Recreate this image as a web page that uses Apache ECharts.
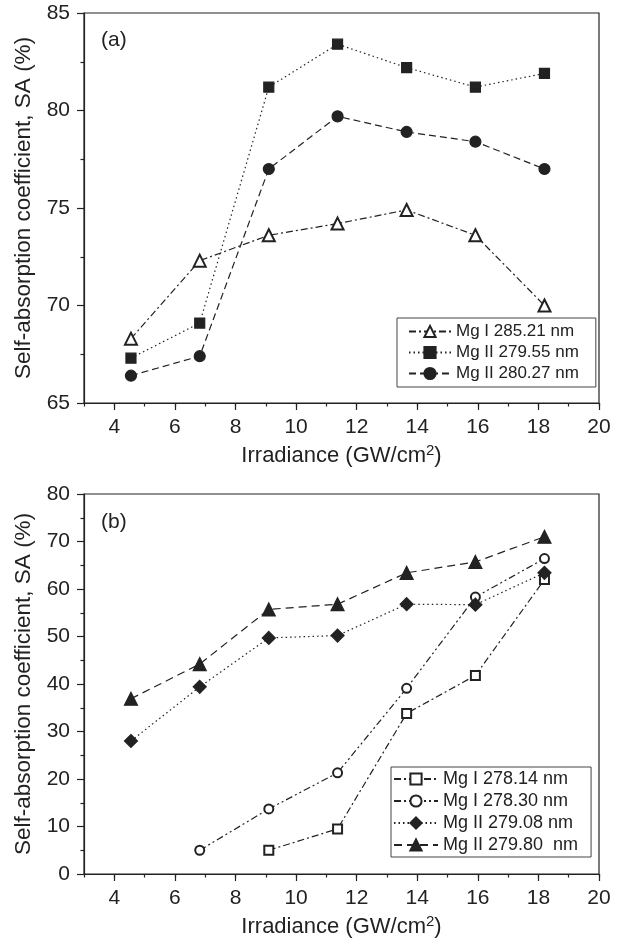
<!DOCTYPE html>
<html>
<head>
<meta charset="utf-8">
<script src="https://cdn.jsdelivr.net/npm/echarts@6/dist/echarts.min.js"></script>
<style>
  html, body { margin: 0; padding: 0; background: #fff; }
  #chart { width: 620px; height: 941px; }
</style>
</head>
<body>
<div id="chart"></div>
<script>
// irradiance values (GW/cm2), same for every series
const irradiance = [4.55, 6.82, 9.1, 11.37, 13.65, 15.92, 18.2]
const xTicks = [4, 6, 8, 10, 12, 14, 16, 18, 20]

// panel (a)
const mgI28521 = [68.3, 72.3, 73.6, 74.2, 74.9, 73.6, 70.0]
const mgII27955 = [67.3, 69.1, 81.2, 83.4, 82.2, 81.2, 81.9]
const mgII28027 = [66.4, 67.4, 77.0, 79.7, 78.9, 78.4, 77.0]

// panel (b)
const mgI27814 = [null, null, 5.0, 9.5, 33.8, 41.8, 62.0]
const mgI27830 = [null, 5.0, 13.7, 21.3, 39.1, 58.3, 66.4]
const mgII27908 = [28.0, 39.4, 49.7, 50.2, 56.8, 56.7, 63.4]
const mgII27980 = [36.9, 44.2, 55.7, 56.8, 63.4, 65.7, 71.0]

const ink = '#222'
const font = 'Liberation Sans, Arial, sans-serif'

const pairs = vals => irradiance.map((x, i) => [x, vals[i]]).filter(p => p[1] != null)

const mkSeries = (name, vals, idx, symbol, size, dash) => ({
  name,
  type: 'line',
  xAxisIndex: idx * 2,
  yAxisIndex: idx,
  data: pairs(vals),
  symbol,
  symbolSize: size,
  color: ink,
  itemStyle: { color: ink, borderColor: ink, borderWidth: 1.2 },
  lineStyle: { color: ink, width: 1.2, type: dash },
  emphasis: { disabled: true },
  animation: false,
})

const dashDot = [7, 3, 2, 3]
const dashDotDot = [7, 3, 2, 3, 2, 3]
const dotted = [1.5, 3]
const dashed = [7, 4]
const longDash = [8, 5]

const mainX = idx => ({
  type: 'value', gridIndex: idx, min: 3, max: 20, position: 'bottom',
  name: 'Irradiance (GW/cm{sup|2})',
  nameLocation: 'middle',
  nameGap: 40,
  nameTextStyle: {
    color: ink, fontSize: 22, fontFamily: font,
    rich: { sup: { fontSize: 15, padding: [0, 0, 11, 0], color: ink, fontFamily: font } },
  },
  axisLine: { lineStyle: { color: ink, width: 1.2 } },
  axisTick: { customValues: xTicks, length: 7, lineStyle: { color: ink, width: 1.2 } },
  axisLabel: { customValues: xTicks, color: ink, fontSize: 21, fontFamily: font, margin: 14 },
  splitLine: { show: false },
})

const minorX = idx => ({
  type: 'value', gridIndex: idx, min: 3, max: 20, interval: 1, position: 'bottom',
  axisLine: { show: false },
  axisTick: { length: 3.5, lineStyle: { color: ink, width: 1.2 } },
  axisLabel: { show: false },
  splitLine: { show: false },
})

const yAx = (idx, min, max, step) => ({
  type: 'value', gridIndex: idx, min, max, interval: step,
  name: 'Self-absorption coefficient, SA (%)',
  nameLocation: 'middle',
  nameGap: 40,
  nameTextStyle: { color: ink, fontSize: 22.5, fontFamily: font },
  axisLine: { show: true, lineStyle: { color: ink, width: 1.2 } },
  axisTick: { show: true, length: 7, lineStyle: { color: ink, width: 1.2 } },
  minorTick: { show: true, splitNumber: 2, length: 3.5, lineStyle: { color: ink, width: 1.2 } },
  axisLabel: { color: ink, fontSize: 21, fontFamily: font, margin: 14 },
  splitLine: { show: false },
})

const legendBase = {
  orient: 'vertical',
  backgroundColor: '#fff',
  borderColor: '#444',
  borderWidth: 1,
  itemHeight: 14,
}

const chart = echarts.init(document.getElementById('chart'))

chart.setOption({
  backgroundColor: '#fff',
  animation: false,
  title: [
    { text: '(a)', left: 96, top: 25, textStyle: { color: ink, fontSize: 21, fontWeight: 'normal', fontFamily: font } },
    { text: '(b)', left: 96, top: 507, textStyle: { color: ink, fontSize: 21, fontWeight: 'normal', fontFamily: font } },
  ],
  grid: [
    { left: 84, right: 21, top: 13, height: 390, show: true, borderColor: ink, borderWidth: 1.2 },
    { left: 84, right: 21, top: 494, height: 380, show: true, borderColor: ink, borderWidth: 1.2 },
  ],
  xAxis: [mainX(0), minorX(0), mainX(1), minorX(1)],
  yAxis: [yAx(0, 65, 85, 5), yAx(1, 0, 80, 10)],
  legend: [
    Object.assign({}, legendBase, {
      data: ['Mg I 285.21 nm', 'Mg II 279.55 nm', 'Mg II 280.27 nm'],
      left: 397, top: 318, padding: [4.5, 17, 4.5, 11], itemGap: 3, itemWidth: 42,
      textStyle: { color: ink, fontSize: 17, lineHeight: 18, fontFamily: font },
    }),
    Object.assign({}, legendBase, {
      data: ['Mg I 278.14 nm', 'Mg I 278.30 nm', 'Mg II 279.08 nm', 'Mg II 279.80  nm'],
      left: 391, top: 767, padding: [2.5, 13, 2.5, 2], itemGap: 3, itemWidth: 44,
      textStyle: { color: ink, fontSize: 18, lineHeight: 19, fontFamily: font },
    }),
  ],
  series: [
    mkSeries('Mg I 285.21 nm', mgI28521, 0, 'emptyTriangle', 12, dashDot),
    mkSeries('Mg II 279.55 nm', mgII27955, 0, 'rect', 10, dotted),
    mkSeries('Mg II 280.27 nm', mgII28027, 0, 'circle', 11, dashed),
    mkSeries('Mg I 278.14 nm', mgI27814, 1, 'emptyRect', 9, dashDot),
    mkSeries('Mg I 278.30 nm', mgI27830, 1, 'emptyCircle', 9, dashDotDot),
    mkSeries('Mg II 279.08 nm', mgII27908, 1, 'diamond', 13, dotted),
    mkSeries('Mg II 279.80  nm', mgII27980, 1, 'triangle', 13, longDash),
  ],
})
</script>
</body>
</html>
